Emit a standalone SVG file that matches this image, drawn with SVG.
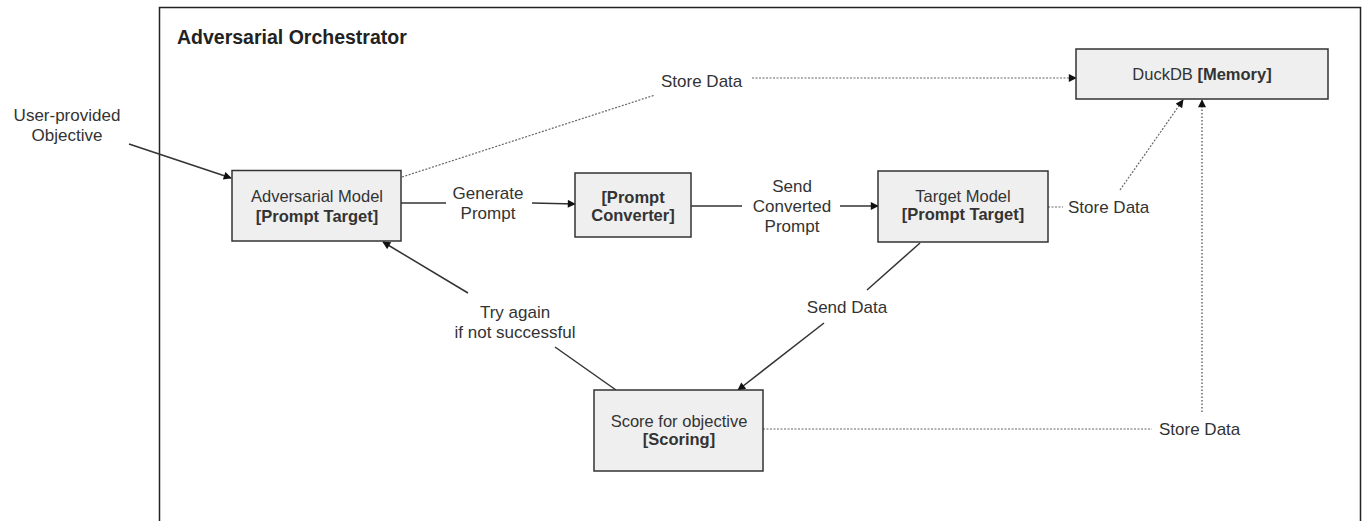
<svg xmlns="http://www.w3.org/2000/svg" width="1362" height="521" viewBox="0 0 1362 521">
  <style>
    .box { fill: #efefef; stroke: #333; stroke-width: 1.5; }
    .nt { font-family: "Liberation Sans", Arial, sans-serif; font-size: 16.5px; fill: #333; text-anchor: middle; }
    .b { font-weight: bold; }
    .lbl { font-family: "Liberation Sans", Arial, sans-serif; font-size: 17px; fill: #333; }
    .mid { text-anchor: middle; }
    .solid { fill: none; stroke: #333; stroke-width: 1.5; }
    .dot { fill: none; stroke: #666; stroke-width: 1.2; stroke-dasharray: 2 1.5; }
    .vdot { fill: none; stroke: #444; stroke-width: 1.2; stroke-dasharray: 1.5 2; }
  </style>
  <defs>
    <marker id="arr" viewBox="0 0 10 10" refX="9" refY="5" markerWidth="9" markerHeight="8" markerUnits="userSpaceOnUse" orient="auto">
      <path d="M0,0 L10,5 L0,10 z" fill="#111"/>
    </marker>
  </defs>
  <rect width="1362" height="521" fill="#fff"/>
  <g id="container">
    <rect x="159.5" y="7.5" width="1201" height="600" fill="none" stroke="#222" stroke-width="1.5"/>
    <text x="177" y="44" font-family="Liberation Sans, Arial, sans-serif" font-size="19.5" font-weight="bold" fill="#222">Adversarial Orchestrator</text>
  </g>
  <g id="connectors">
    <line class="solid" x1="129" y1="144" x2="231" y2="178" marker-end="url(#arr)"/>
    <text class="lbl mid" x="67" y="121">User-provided</text>
    <text class="lbl mid" x="67" y="141">Objective</text>

    <line class="solid" x1="401" y1="203" x2="446" y2="203"/>
    <line class="solid" x1="532" y1="203" x2="575" y2="204" marker-end="url(#arr)"/>
    <text class="lbl mid" x="488" y="199">Generate</text>
    <text class="lbl mid" x="488" y="219">Prompt</text>

    <line class="solid" x1="691" y1="206" x2="742" y2="206"/>
    <line class="solid" x1="840" y1="206" x2="878" y2="206" marker-end="url(#arr)"/>
    <text class="lbl mid" x="792" y="192">Send</text>
    <text class="lbl mid" x="792" y="212">Converted</text>
    <text class="lbl mid" x="792" y="232">Prompt</text>

    <line class="dot" x1="402" y1="177" x2="655" y2="95"/>
    <text class="lbl" x="661" y="87">Store Data</text>
    <line class="dot" x1="752" y1="78" x2="1076" y2="78" marker-end="url(#arr)"/>

    <line class="dot" x1="1048" y1="207" x2="1063" y2="207"/>
    <text class="lbl" x="1068" y="213">Store Data</text>
    <line class="dot" x1="1120" y1="190" x2="1183" y2="100" marker-end="url(#arr)"/>

    <line class="solid" x1="920" y1="243" x2="867" y2="290"/>
    <text class="lbl mid" x="847" y="313">Send Data</text>
    <line class="solid" x1="824" y1="323" x2="738" y2="390" marker-end="url(#arr)"/>

    <line class="solid" x1="616" y1="390" x2="555" y2="347"/>
    <text class="lbl mid" x="515" y="318">Try again</text>
    <text class="lbl mid" x="515" y="338">if not successful</text>
    <line class="solid" x1="468" y1="293" x2="383" y2="242" marker-end="url(#arr)"/>

    <line class="dot" x1="763" y1="429" x2="1152" y2="429"/>
    <text class="lbl" x="1159" y="435">Store Data</text>
    <line class="vdot" x1="1202" y1="412" x2="1202" y2="100" marker-end="url(#arr)"/>
  </g>
  <g id="adversarial-model">
    <rect class="box" x="232" y="170.5" width="169" height="70.5"/>
    <text class="nt" x="317" y="202">Adversarial Model</text>
    <text class="nt b" x="317" y="222">[Prompt Target]</text>
  </g>
  <g id="prompt-converter">
    <rect class="box" x="575" y="173" width="116" height="64"/>
    <text class="nt b" x="633" y="203">[Prompt</text>
    <text class="nt b" x="633" y="221">Converter]</text>
  </g>
  <g id="target-model">
    <rect class="box" x="878" y="171" width="170" height="71"/>
    <text class="nt" x="963" y="202">Target Model</text>
    <text class="nt b" x="963" y="220">[Prompt Target]</text>
  </g>
  <g id="duckdb">
    <rect class="box" x="1076" y="49" width="252" height="50"/>
    <text class="nt" x="1202" y="80">DuckDB <tspan class="b">[Memory]</tspan></text>
  </g>
  <g id="scoring">
    <rect class="box" x="594" y="390" width="169" height="81"/>
    <text class="nt" x="679" y="427">Score for objective</text>
    <text class="nt b" x="679" y="445">[Scoring]</text>
  </g>
</svg>
